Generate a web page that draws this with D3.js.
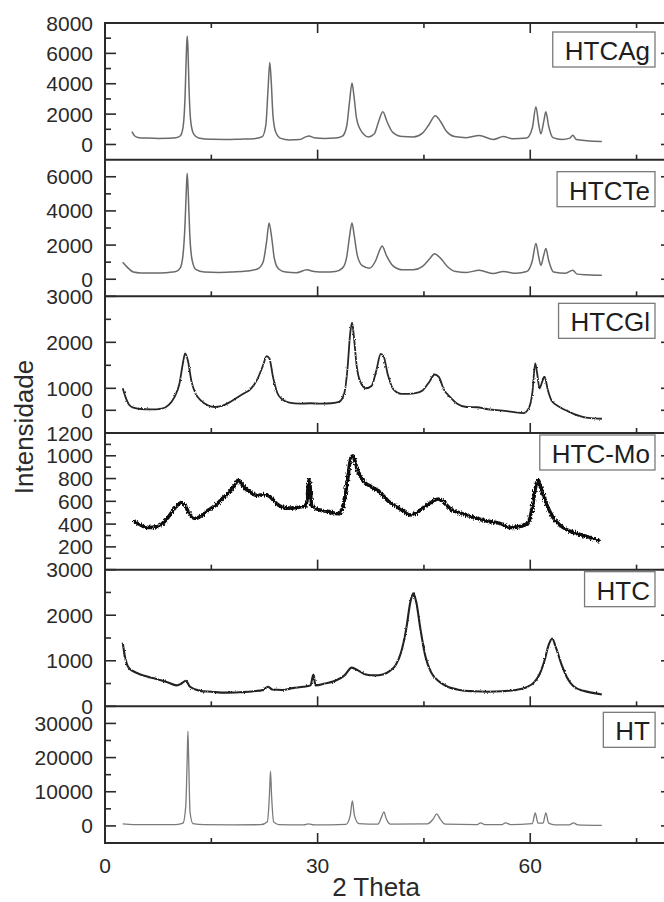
<!DOCTYPE html>
<html>
<head>
<meta charset="utf-8">
<script src="https://cdn.jsdelivr.net/npm/d3@7"></script>
<style>
	body { margin:0; background:#fff; }
	svg { display:block; font-family:"Liberation Sans", Arial, sans-serif; }
	.frame { stroke:#2a2a2a; stroke-width:2; fill:none; }
	.tick { stroke:#2a2a2a; stroke-width:1.6; }
	.tlabel { font-size:21px; fill:#2a2a2a; }
	.legbox { fill:#fff; stroke:#7a7a7a; stroke-width:1.3; }
	.legtext { font-size:26px; fill:#1e1e1e; }
	.title { font-size:26px; fill:#2a2a2a; }
</style>
</head>
<body>
<div class="c_xrd"></div>
<script>

/*DADOS
------------------------------------------------------
*/
const names = ["HTCAg", "HTCTe", "HTCGl", "HTC-Mo", "HTC", "HT"];

// [2 theta, intensidade]
const htcAg = [[3.8,850],[4.2,560],[4.8,450],[6,420],[7.5,400],[9,410],[10,440],[10.6,560],[11.0,1100],[11.3,3200],[11.5,6300],[11.6,7150],[11.7,6400],[11.85,3800],[12.1,1500],[12.5,700],[13.2,430],[15,340],[17,330],[19,350],[21,380],[22.2,520],[22.7,1300],[23.0,3600],[23.25,5400],[23.45,4200],[23.7,1900],[24.1,800],[24.8,400],[26,300],[27.5,330],[28.3,500],[28.8,560],[29.5,450],[31,400],[32.5,420],[33.5,550],[34.1,1200],[34.5,2800],[34.85,4050],[35.1,3300],[35.5,1700],[36.2,850],[37.2,500],[38,700],[38.6,1500],[39.2,2150],[39.8,1500],[40.6,800],[42,520],[43.5,500],[44.8,750],[45.7,1300],[46.6,1900],[47.3,1550],[48.2,850],[49.3,520],[51,450],[52.8,590],[54.8,330],[56.2,520],[57.5,380],[59.5,430],[60.3,1100],[60.8,2490],[61.2,1300],[61.5,700],[61.9,1500],[62.2,2150],[62.6,1200],[63.2,450],[64.5,330],[65.6,420],[66.0,600],[66.5,330],[68,250],[70.1,200]];

const htcTe = [[2.5,1000],[3.2,680],[4,420],[5,370],[7,370],[9,400],[10,450],[10.6,650],[11.0,1400],[11.3,3300],[11.5,5500],[11.6,6200],[11.75,5000],[11.95,2700],[12.3,1100],[12.8,580],[14,420],[16,400],[18,430],[20,480],[21.5,600],[22.3,1000],[22.8,2200],[23.15,3300],[23.5,2500],[23.9,1200],[24.5,600],[25.5,420],[27,380],[28.5,550],[29.5,450],[31,420],[32.5,450],[33.5,650],[34.1,1300],[34.5,2500],[34.85,3300],[35.15,2600],[35.6,1400],[36.3,800],[37.3,650],[38.2,1100],[38.8,1750],[39.1,1950],[39.7,1400],[40.6,800],[42,550],[43.5,550],[44.8,750],[45.8,1200],[46.5,1500],[47.3,1250],[48.3,750],[49.5,450],[51,400],[52.8,520],[54.8,330],[56.2,450],[58,350],[59.5,450],[60.3,1100],[60.8,2100],[61.2,1300],[61.5,820],[61.9,1400],[62.2,1800],[62.6,1100],[63.3,420],[65,350],[66.0,530],[66.6,300],[68,260],[70.1,230]];

const htcGl = [[2.5,1000],[2.9,600],[3.4,250],[4,120],[5,60],[6.5,40],[8,80],[9,250],[9.8,600],[10.5,1100],[11.0,1550],[11.3,1760],[11.7,1600],[12.2,1150],[12.8,750],[13.5,450],[14.5,230],[15.5,150],[16.5,200],[17.5,350],[18.5,550],[19.5,750],[20.5,950],[21.5,1200],[22.3,1500],[22.8,1700],[23.2,1650],[23.7,1250],[24.3,800],[25,500],[26,350],[27.5,300],[29,320],[30.5,300],[32,320],[33,380],[33.7,700],[34.2,1400],[34.6,2200],[34.85,2430],[35.1,2150],[35.5,1500],[36,1150],[36.8,1000],[37.6,1050],[38.3,1400],[38.9,1750],[39.3,1700],[39.9,1300],[40.7,950],[41.8,750],[42.8,750],[43.8,780],[44.8,900],[45.8,1150],[46.5,1300],[47.1,1250],[47.8,950],[48.7,600],[49.7,300],[51,150],[52.5,140],[53.8,60],[55.7,0],[57.5,-80],[59,-140],[59.8,100],[60.3,800],[60.7,1540],[61.0,1300],[61.3,1000],[61.7,1150],[62.0,1260],[62.5,900],[63,450],[64.2,140],[65,0],[65.6,-90],[66.3,-200],[67.4,-320],[68.5,-380],[70.1,-410]];

const htcMo = [[4,430],[4.8,400],[6,370],[7.5,380],[8.5,430],[9.5,510],[10.3,570],[10.8,590],[11.3,560],[12,480],[12.8,450],[13.5,470],[14.5,520],[15.5,560],[16.5,620],[17.5,680],[18.3,740],[18.8,790],[19.5,730],[20.5,680],[21.5,650],[22.5,660],[23.3,640],[24.2,580],[25,550],[26,540],[27.5,550],[28.4,560],[28.8,790],[29.2,560],[30,530],[31.5,510],[33,490],[33.6,560],[34.2,780],[34.7,980],[35.0,1000],[35.5,900],[36.4,780],[37.5,730],[38.8,680],[40,600],[41,560],[42,520],[43,480],[44,500],[45,550],[46,590],[47,620],[47.8,590],[48.8,530],[50,500],[51.5,470],[53,440],[54.5,420],[56,400],[57.1,370],[58.5,380],[59.7,410],[60.3,550],[60.8,740],[61.1,790],[61.6,700],[62.4,560],[63.2,460],[64.2,390],[65.5,340],[67,310],[68.5,280],[69.8,250]];

const htc = [[2.5,1400],[2.8,1100],[3.1,920],[3.5,820],[4,770],[5,700],[6.3,640],[7.5,590],[8.8,530],[10.1,460],[10.8,500],[11.4,560],[12,430],[13.4,340],[15,320],[17,300],[19,310],[21,330],[22.3,360],[23.0,430],[23.6,370],[25,360],[26.5,400],[28,430],[29.0,460],[29.4,700],[29.7,460],[31,500],[32.5,560],[33.8,680],[34.8,850],[35.7,790],[36.8,700],[38,680],[39.2,700],[40.2,780],[41,900],[41.8,1200],[42.5,1700],[43.1,2300],[43.5,2480],[43.9,2300],[44.5,1700],[45.2,1100],[46,750],[47,560],[48.2,440],[50,360],[52,330],[54,320],[56,330],[58,360],[59.5,420],[60.5,520],[61.3,700],[62.0,1000],[62.6,1350],[63.1,1490],[63.6,1300],[64.5,880],[65.2,630],[66.1,440],[67.5,340],[69,290],[70.1,260]];

const ht = [[2.5,600],[4,400],[7,350],[10,400],[11.0,800],[11.4,6000],[11.6,20000],[11.7,27700],[11.8,20000],[12.0,4000],[12.4,700],[14,350],[18,300],[22,350],[22.9,1200],[23.2,9000],[23.35,16000],[23.5,9000],[23.8,1200],[24.5,400],[28,300],[28.7,600],[29.5,300],[34,450],[34.6,3000],[34.9,7300],[35.2,3000],[35.8,700],[38.5,500],[39.0,2500],[39.35,4100],[39.7,2000],[40.3,500],[45.5,600],[46.3,2000],[46.8,3500],[47.3,2000],[48,500],[52.5,400],[53,900],[53.6,400],[56,400],[56.5,900],[57.2,400],[60.3,700],[60.7,3800],[61.1,800],[61.8,800],[62.2,3800],[62.6,800],[63.5,300],[65.5,300],[66.1,900],[66.7,300],[70.1,150]];

const series = [htcAg, htcTe, htcGl, htcMo, htc, ht];

// eixos y de cada painel
const yDomains = [[-1000,8000],[-1000,7000],[-1100,0,1000,3000],[0,1200],[0,3000],[-5000,35000]];
const yMajor = [[0,2000,4000,6000,8000],[0,2000,4000,6000],[0,1000,2000,3000],[200,400,600,800,1000,1200],[0,1000,2000,3000],[0,10000,20000,30000]];
const yMinor = [[1000,3000,5000,7000],[1000,3000,5000],[1500,2500],[100,300,500,700,900,1100],[500,1500,2500],[5000,15000,25000]];

const xDomain = [0,80];
const xMajor = [0,30,60];
const xMinor = [15,45,75];

/*SVG, FORMATO
------------------------------------------------------
*/
const width = 664, height = 902;
const left = 105, right = 672;
const plotTop = 23, plotBottom = 843;
const ph = (plotBottom - plotTop)/names.length;

// aparência das curvas
const lineColor = ["#6a6a6a","#6a6a6a","#262626","#0d0d0d","#222","#7a7a7a"];
const lineWidth = [1.5,1.5,1.8,3.6,2.1,1.3];
const lineNoise = [0,0,2.5,5,2.5,0]; // ruído visual do traço (filtro)
const legendTop = [9,12,7,2,2,6];

let svg = d3.select(".c_xrd")
	.append("svg")
	.attr("width", width)
	.attr("height", height);

svg.append("rect").attr("width", width).attr("height", height).attr("fill", "#fff");

// filtros de ruído
let defs = svg.append("defs");
lineNoise.forEach((s, i) => {
	if (!s) return;
	let f = defs.append("filter")
		.attr("id", "noise" + i)
		.attr("filterUnits", "userSpaceOnUse")
		.attr("x", 0).attr("y", 0).attr("width", width).attr("height", height);
	f.append("feTurbulence")
		.attr("type", "fractalNoise")
		.attr("baseFrequency", "0.9 0.45")
		.attr("numOctaves", 1)
		.attr("seed", 3 + i)
		.attr("result", "turb");
	f.append("feDisplacementMap")
		.attr("in", "SourceGraphic")
		.attr("in2", "turb")
		.attr("scale", s)
		.attr("xChannelSelector", "R")
		.attr("yChannelSelector", "G");
});

let x = d3.scaleLinear().domain(xDomain).range([left, right]);

names.forEach((name, i) => {
	const top = plotTop + i*ph;
	const bottom = top + ph;

	let y;
	if (yDomains[i].length === 4) {
		// eixo com o 0 deslocado, como no original
		y = d3.scaleLinear().domain(yDomains[i])
			.range([bottom, top + ph*114/136.7, top + ph*92/136.7, top]);
	} else {
		y = d3.scaleLinear().domain(yDomains[i]).range([bottom, top]);
	}

	let g = svg.append("g").attr("class", "panel");

	let line = d3.line()
		.x(d => x(d[0]))
		.y(d => y(d[1]))
		.curve(d3.curveMonotoneX);

	let p = g.append("path")
		.datum(series[i])
		.attr("d", line)
		.attr("fill", "none")
		.attr("stroke", lineColor[i])
		.attr("stroke-width", lineWidth[i])
		.attr("stroke-linejoin", "round");
	if (lineNoise[i]) p.attr("filter", `url(#noise${i})`);

	// ticks y (esquerda e direita)
	yMajor[i].forEach(v => {
		g.append("line").attr("class", "tick")
			.attr("x1", left).attr("x2", left + 11).attr("y1", y(v)).attr("y2", y(v));
		g.append("line").attr("class", "tick")
			.attr("x1", right).attr("x2", right - 11).attr("y1", y(v)).attr("y2", y(v));
		g.append("text").attr("class", "tlabel")
			.attr("x", left - 12).attr("y", y(v)).attr("dy", "0.36em")
			.attr("text-anchor", "end")
			.text(v);
	});
	yMinor[i].forEach(v => {
		g.append("line").attr("class", "tick")
			.attr("x1", left).attr("x2", left + 6).attr("y1", y(v)).attr("y2", y(v));
		g.append("line").attr("class", "tick")
			.attr("x1", right).attr("x2", right - 6).attr("y1", y(v)).attr("y2", y(v));
	});

	// ticks x no fundo de cada painel
	xMajor.forEach(v => {
		g.append("line").attr("class", "tick")
			.attr("x1", x(v)).attr("x2", x(v)).attr("y1", bottom).attr("y2", bottom - 10);
	});
	xMinor.forEach(v => {
		g.append("line").attr("class", "tick")
			.attr("x1", x(v)).attr("x2", x(v)).attr("y1", bottom).attr("y2", bottom - 5);
	});

	g.append("line").attr("class", "frame")
		.attr("x1", left - 1).attr("x2", right).attr("y1", bottom).attr("y2", bottom);

	// legenda
	let lt = g.append("text").attr("class", "legtext")
		.attr("x", 650).attr("y", top + legendTop[i] + 28)
		.attr("text-anchor", "end")
		.text(name);
	let bb = lt.node().getBBox();
	g.insert("rect", "text.legtext")
		.attr("class", "legbox")
		.attr("x", bb.x - 12).attr("y", top + legendTop[i])
		.attr("width", bb.width + 17).attr("height", 35);
});

// moldura: topo e eixo esquerdo
svg.append("line").attr("class", "frame")
	.attr("x1", left - 1).attr("x2", right).attr("y1", plotTop).attr("y2", plotTop);
svg.append("line").attr("class", "frame")
	.attr("x1", left).attr("x2", left).attr("y1", plotTop - 1).attr("y2", plotBottom + 1);

xMajor.forEach(v => {
	svg.append("line").attr("class", "tick")
		.attr("x1", x(v)).attr("x2", x(v)).attr("y1", plotTop).attr("y2", plotTop + 10);
	svg.append("text").attr("class", "tlabel")
		.attr("x", x(v)).attr("y", 873)
		.attr("text-anchor", "middle")
		.text(v);
});
xMinor.forEach(v => {
	svg.append("line").attr("class", "tick")
		.attr("x1", x(v)).attr("x2", x(v)).attr("y1", plotTop).attr("y2", plotTop + 5);
});

// títulos dos eixos
svg.append("text").attr("class", "title")
	.attr("x", 376).attr("y", 896)
	.attr("text-anchor", "middle")
	.text("2 Theta");

svg.append("text").attr("class", "title")
	.attr("transform", "translate(33,427) rotate(-90)")
	.attr("text-anchor", "middle")
	.text("Intensidade");

</script>
</body>
</html>
